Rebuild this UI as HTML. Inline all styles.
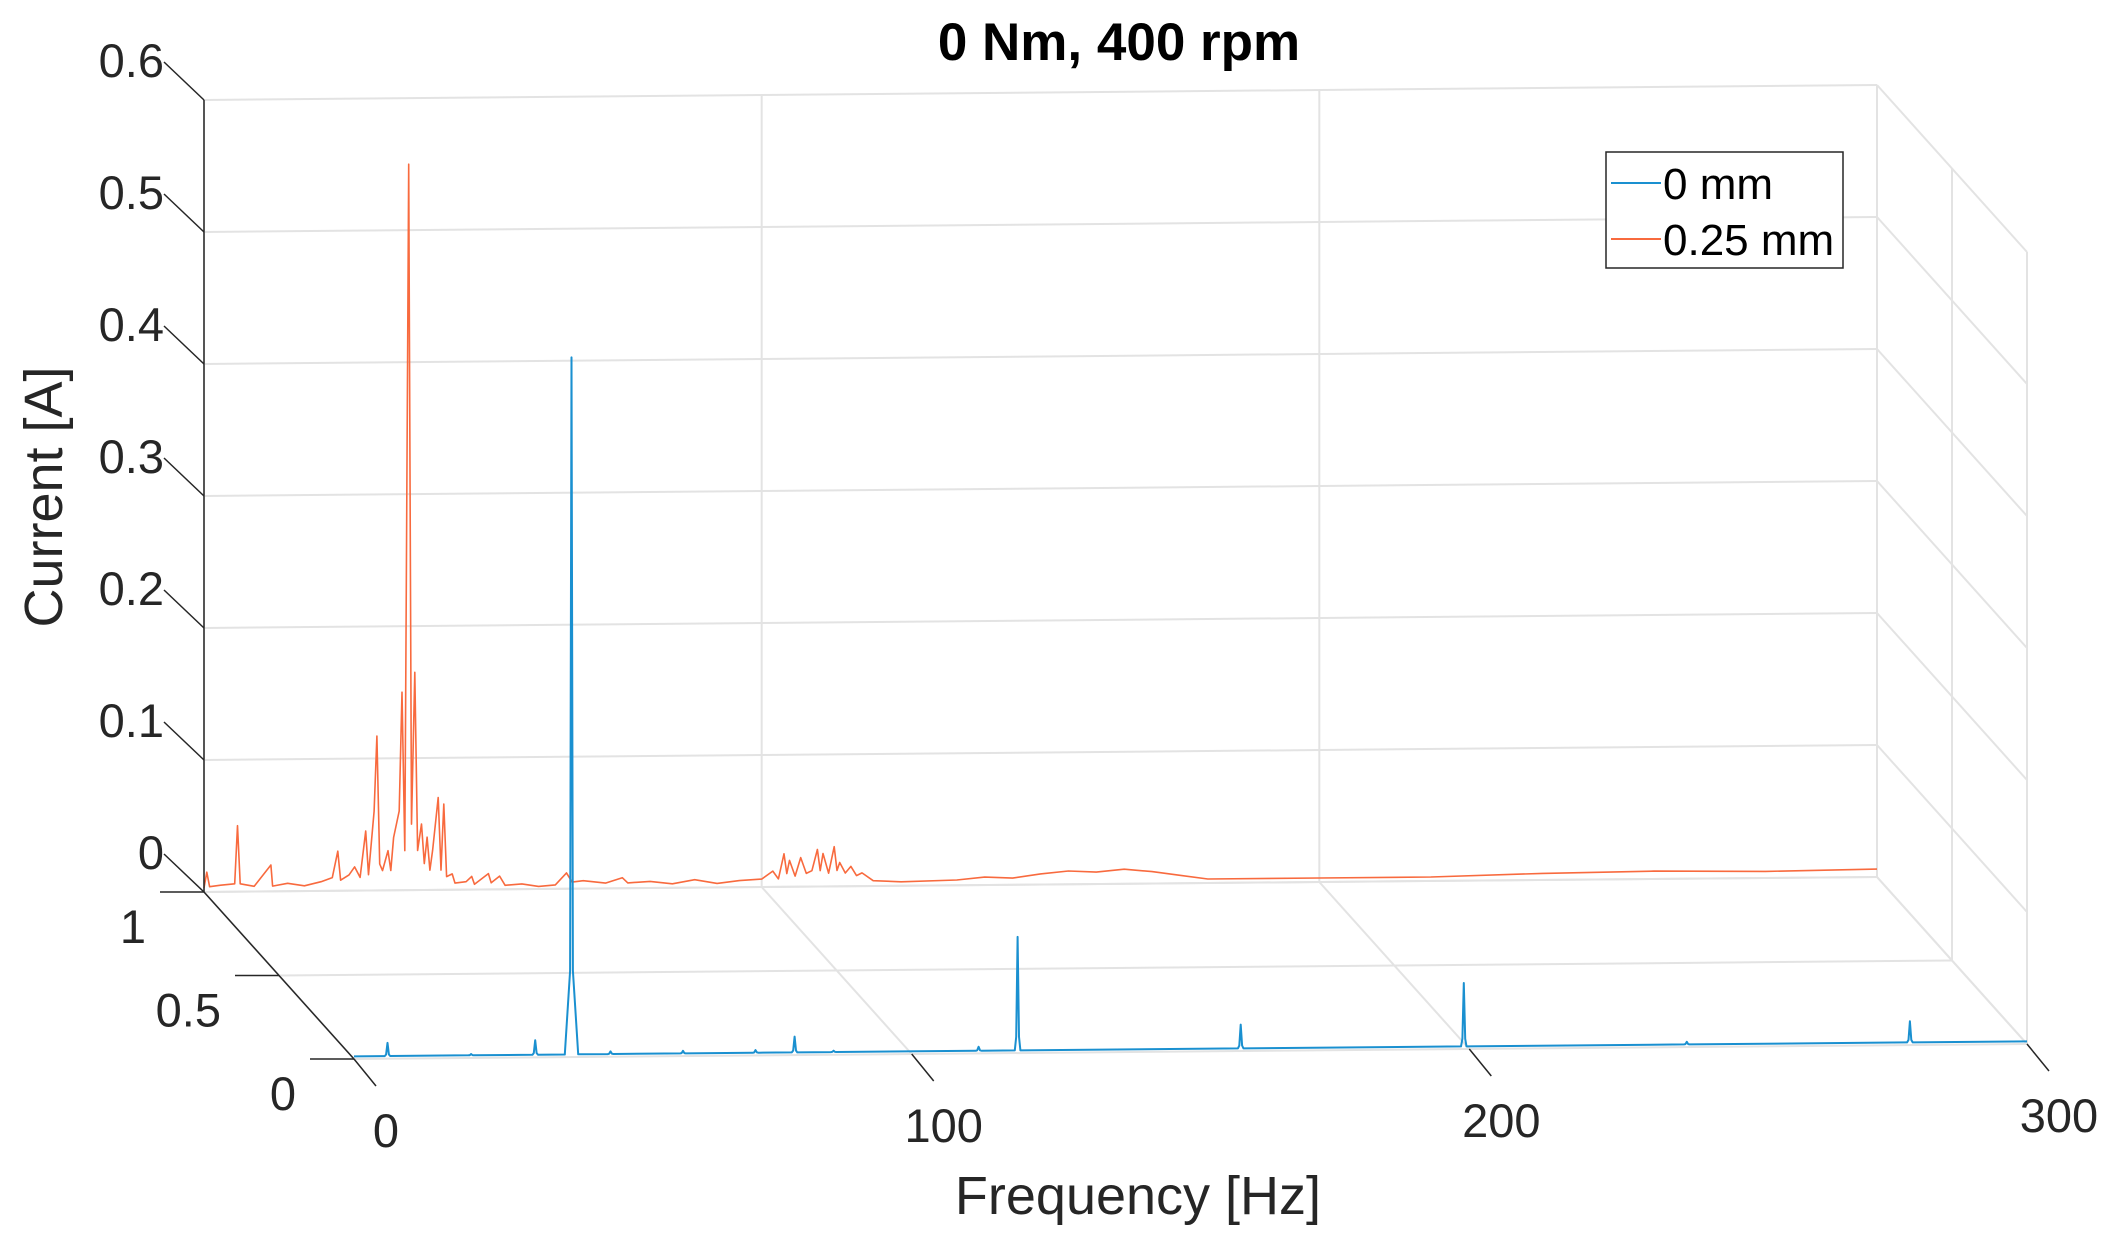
<!DOCTYPE html>
<html><head><meta charset="utf-8"><style>
html,body{margin:0;padding:0;background:#fff;}
svg{display:block;font-family:"Liberation Sans",sans-serif;}
</style></head><body>
<svg id="chart" width="2123" height="1245" viewBox="0 0 2123 1245" xmlns="http://www.w3.org/2000/svg">
<text x="1119" y="60" font-size="53" font-weight="bold" text-anchor="middle" fill="#000">0 Nm, 400 rpm</text>
<g id="grid"></g>
<g id="series"></g>
<g id="axes"></g>
<text x="1138" y="1214" font-size="54" text-anchor="middle" fill="#262626">Frequency [Hz]</text>
<text transform="translate(62,497) rotate(-90)" font-size="54" text-anchor="middle" fill="#262626">Current [A]</text>
<g>
<rect x="1606" y="152" width="237" height="116" fill="#fff" stroke="#262626" stroke-width="1.5"/>
<line x1="1611" y1="183" x2="1661" y2="183" stroke="#1a90d0" stroke-width="2"/>
<text x="1663" y="199" font-size="44" fill="#000">0 mm</text>
<line x1="1611" y1="239" x2="1661" y2="239" stroke="#f86a3e" stroke-width="2"/>
<text x="1663" y="255" font-size="44" fill="#000">0.25 mm</text>
</g>
</svg>
<script>
const xTicks = [0, 100, 200, 300];
const zTicks = [0, 0.1, 0.2, 0.3, 0.4, 0.5, 0.6];
const zTickLabels = ["0", "0.1", "0.2", "0.3", "0.4", "0.5", "0.6"];
const dTicks = [0, 0.5, 1];
const dTickLabels = ["0", "0.5", "1"];
const blueDepth = 0;
const orangeDepth = 1;
const blueBase = 0.002;
const bluePeakFreq = [6, 21, 32.5, 39, 46, 59, 72, 79, 86, 112, 119, 159, 199, 239, 279];
const bluePeakAmp = [0.012, 0.003, 0.013, 0.53, 0.004, 0.004, 0.004, 0.014, 0.003, 0.005, 0.088, 0.02, 0.05, 0.004, 0.018];
const orangeFreq = [0,0.5,1,3,5.5,6,6.5,9,12,12.3,15,18,21,23,24,24.5,26,27,28,29,29.5,30.5,31,31.5,32,33,33.5,34,35,35.5,36,36.7,37.2,37.8,38.3,39,39.5,40,40.5,41,42,42.5,43,43.5,44.5,45,47,48,48.5,51,51.5,53,54,57,60,63,65,66,68,72,75,76,80,84,88,92,96,100,102,103,104,104.5,105,106,107,108,109,110,110.5,111,112,113,113.5,114,115,116,117,118,120,125,135,140,145,150,155,160,165,170,175,180,200,220,240,260,280,300];
const orangeAmp = [0.003,0.015,0.004,0.005,0.006,0.05,0.006,0.004,0.02,0.004,0.006,0.004,0.007,0.01,0.03,0.008,0.012,0.018,0.01,0.045,0.012,0.06,0.117,0.02,0.015,0.03,0.015,0.04,0.06,0.15,0.03,0.55,0.05,0.165,0.03,0.05,0.02,0.04,0.015,0.03,0.07,0.015,0.065,0.01,0.012,0.005,0.006,0.01,0.004,0.012,0.005,0.01,0.003,0.004,0.002,0.003,0.012,0.005,0.006,0.004,0.008,0.004,0.005,0.003,0.006,0.003,0.005,0.006,0.012,0.006,0.025,0.01,0.02,0.008,0.022,0.01,0.012,0.028,0.012,0.025,0.01,0.03,0.012,0.018,0.01,0.015,0.008,0.01,0.004,0.003,0.004,0.006,0.005,0.008,0.01,0.009,0.011,0.009,0.006,0.003,0.003,0.003,0.005,0.006,0.005,0.006];

const O = [354, 1059], EX = [1673, -15], ED = [-150, -167], EZ = -792/0.6;
function P(f, d, z){ return [O[0] + f/300*EX[0] + d*ED[0], O[1] + f/300*EX[1] + d*ED[1] + z*EZ]; }
const NS = "http://www.w3.org/2000/svg";
function mk(parent, tag, attrs){ const e = document.createElementNS(NS, tag); for (const k in attrs) e.setAttribute(k, attrs[k]); document.getElementById(parent).appendChild(e); return e; }
function ln(parent, a, b, col, w){ return mk(parent, "line", {x1:a[0].toFixed(1), y1:a[1].toFixed(1), x2:b[0].toFixed(1), y2:b[1].toFixed(1), stroke:col, "stroke-width":w}); }
const GC = "#e3e3e3", AC = "#262626";

zTicks.forEach(z => {
  const e = ln("grid", P(0,1,z), P(300,1,z), GC, 2);
  
  
  const s = ln("grid", P(300,1,z), P(300,0,z), GC, 2);
  
  
});
xTicks.forEach(f => {
  const e = ln("grid", P(f,1,0), P(f,1,0.6), GC, 2);
  
  
  const fl = ln("grid", P(f,1,0), P(f,0,0), GC, 2);
  
  
});
dTicks.forEach(d => {
  const e = ln("grid", P(0,d,0), P(300,d,0), GC, 2);
  
  
  const v = ln("grid", P(300,d,0), P(300,d,0.6), GC, 2);
  
  
});

function pathFrom(pts){ return pts.map((p,i)=>(i?"L":"M")+p[0].toFixed(1)+" "+p[1].toFixed(1)).join(" "); }
const oPts = orangeFreq.map((f,i) => P(f, orangeDepth, orangeAmp[i]));
const op = mk("series", "path", {d: pathFrom(oPts), fill:"none", stroke:"#f86a3e", "stroke-width":1.6, "stroke-linejoin":"round"});



const bPts = [P(0, blueDepth, blueBase)];
bluePeakFreq.forEach((f,i) => {
  const a = bluePeakAmp[i];
  const w = a > 0.1 ? 1.2 : 0.5;
  bPts.push(P(f-w, blueDepth, blueBase));
  bPts.push(P(f-0.25, blueDepth, blueBase + (a-blueBase)*0.12));
  bPts.push(P(f, blueDepth, a));
  bPts.push(P(f+0.25, blueDepth, blueBase + (a-blueBase)*0.12));
  bPts.push(P(f+w, blueDepth, blueBase));
});
bPts.push(P(300, blueDepth, blueBase));
const bp = mk("series", "path", {d: pathFrom(bPts), fill:"none", stroke:"#1a90d0", "stroke-width":2, "stroke-linejoin":"round"});



const za = ln("axes", P(0,1,0), P(0,1,0.6), AC, 1.5);


const da = ln("axes", P(0,1,0), P(0,0,0), AC, 1.5);


zTicks.forEach((z,i) => {
  const p = P(0,1,z);
  const t = ln("axes", p, [p[0]-40, p[1]-38], AC, 1.5);
  
  
  const tx = mk("axes", "text", {x:(p[0]-40).toFixed(1), y:(p[1]-23).toFixed(1), "font-size":47, "text-anchor":"end", fill:AC});
  tx.textContent = zTickLabels[i];
  
  
});
dTicks.forEach((d,i) => {
  const p = P(0,d,0);
  const t = ln("axes", p, [p[0]-44, p[1]], AC, 1.5);
  
  
  const tx = mk("axes", "text", {x:(p[0]-58).toFixed(1), y:(p[1]+51).toFixed(1), "font-size":47, "text-anchor":"end", fill:AC});
  tx.textContent = dTickLabels[i];
  
  
});
xTicks.forEach(f => {
  const p = P(f,0,0);
  const t = ln("axes", p, [p[0]+22, p[1]+27], AC, 1.5);
  
  
  const tx = mk("axes", "text", {x:(p[0]+32).toFixed(1), y:(p[1]+88).toFixed(1), "font-size":47, "text-anchor":"middle", fill:AC});
  tx.textContent = String(f);
  
  
});
</script>
</body></html>
